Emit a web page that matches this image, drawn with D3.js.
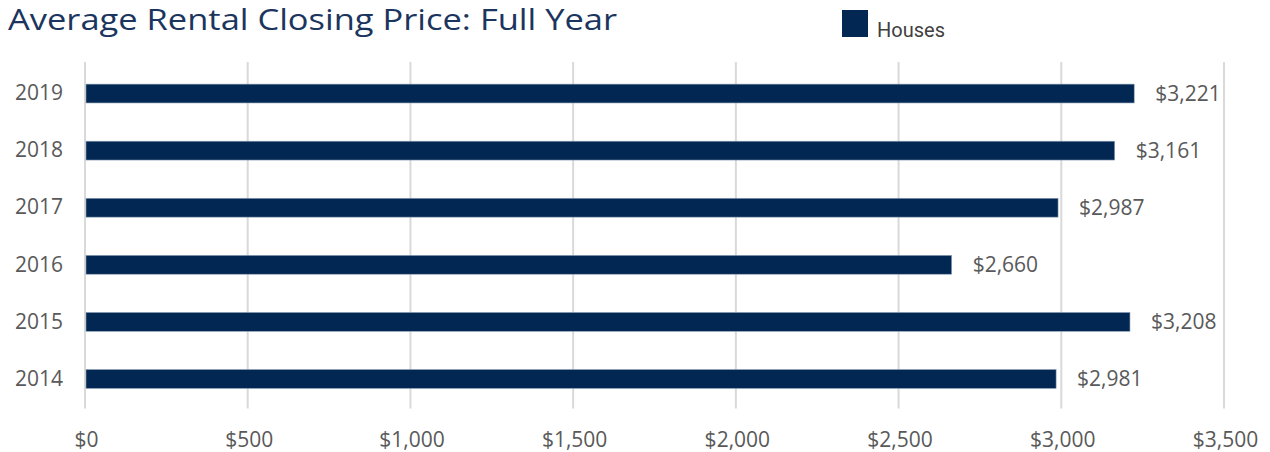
<!DOCTYPE html>
<html>
<head>
<meta charset="utf-8">
<script src="https://cdn.jsdelivr.net/npm/d3@7"></script>
<style>
  body { margin: 0; background: #fff; }
  svg { display: block; }
</style>
</head>
<body>
<svg id="chart" width="1270" height="452"></svg>
<script>
const years = ["2019", "2018", "2017", "2016", "2015", "2014"];
const houses = [3221, 3161, 2987, 2660, 3208, 2981];
const xTicks = [0, 500, 1000, 1500, 2000, 2500, 3000, 3500];

const titleText = "Average Rental Closing Price: Full Year";
const seriesName = "Houses";

const svg = d3.select("#chart");
const barColor = "#022752";

const area = { left: 86, right: 1225, top: 65, bottom: 407.5 };

const scX = d3.scaleLinear()
    .domain([0, 3500])
    .range([area.left, area.right]);

const scY = d3.scaleBand()
    .domain(years)
    .range([area.top, area.bottom])
    .paddingInner(0.67)
    .paddingOuter(0.335);

// title
svg.append("text")
    .attr("x", 8)
    .attr("y", 30)
    .attr("textLength", 609)
    .attr("lengthAdjust", "spacingAndGlyphs")
    .style("font-family", "'Open Sans', sans-serif")
    .style("font-size", "29px")
    .style("fill", "#1b355e")
    .text(titleText);

// legend
svg.append("rect")
    .attr("x", 842)
    .attr("y", 10)
    .attr("width", 26)
    .attr("height", 27)
    .style("fill", barColor);
svg.append("text")
    .attr("x", 877)
    .attr("y", 37)
    .style("font-family", "Roboto, sans-serif")
    .style("font-size", "20px")
    .style("fill", "#404040")
    .text(seriesName);

// gridlines
svg.append("g")
    .selectAll("line")
    .data(xTicks)
    .enter()
    .append("line")
    .attr("x1", d => scX(d) - 1)
    .attr("x2", d => scX(d) - 1)
    .attr("y1", area.top - 3)
    .attr("y2", area.bottom + 1)
    .style("stroke", "#d9d9d9")
    .style("stroke-width", 2);

// x axis labels
const axisX = d3.axisBottom(scX)
    .tickValues(xTicks)
    .tickSize(0)
    .tickFormat(d => "$" + d3.format(",")(d));

svg.append("g")
    .attr("transform", `translate(0, ${area.bottom + 22})`)
    .call(axisX)
    .call(g => g.select(".domain").remove())
    .selectAll("text")
    .style("font-family", "'Open Sans', sans-serif")
    .style("font-size", "21px")
    .style("fill", "#595959");

// y axis labels
const axisY = d3.axisLeft(scY).tickSize(0);
svg.append("g")
    .attr("transform", `translate(63, 0)`)
    .call(axisY)
    .call(g => g.select(".domain").remove())
    .selectAll("text")
    .attr("x", 0)
    .style("font-family", "'Open Sans', sans-serif")
    .style("font-size", "21px")
    .style("fill", "#595959");

const data = years.map((y, i) => ({ year: y, value: houses[i] }));

// bars
svg.append("g")
    .selectAll("rect")
    .data(data)
    .enter()
    .append("rect")
    .attr("x", scX(0))
    .attr("y", d => scY(d.year))
    .attr("width", d => scX(d.value) - scX(0))
    .attr("height", scY.bandwidth())
    .style("fill", barColor)
    .style("stroke", "#8da0b8")
    .style("stroke-width", 0.6);

// value labels
svg.append("g")
    .selectAll("text")
    .data(data)
    .enter()
    .append("text")
    .attr("x", d => scX(d.value) + 21)
    .attr("y", d => scY(d.year) + scY.bandwidth() / 2)
    .attr("dy", "0.35em")
    .style("font-family", "'Open Sans', sans-serif")
    .style("font-size", "21px")
    .style("fill", "#595959")
    .text(d => "$" + d3.format(",")(d.value));
</script>
</body>
</html>
